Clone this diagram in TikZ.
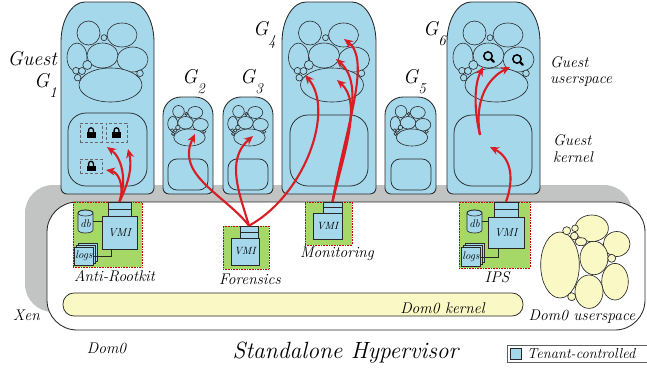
\documentclass[tikz,border=0pt]{standalone}
\usetikzlibrary{arrows.meta,shapes.geometric,shadows}
\definecolor{guestblue}{RGB}{166,216,236}
\definecolor{vmigreen}{RGB}{166,216,104}
\definecolor{domyellow}{RGB}{250,248,196}
\definecolor{bandgray}{RGB}{194,195,195}
\definecolor{arrowred}{RGB}{216,30,36}
\definecolor{edge}{RGB}{40,40,40}

% guest VM outline: left, top, right, bottom, corner x radius, corner y radius
\newcommand{\guestshape}[6]{%
  \draw[guestbox] (#1,#4-6) -- (#1,#2+#6)
    arc[start angle=180,end angle=270,x radius=#5,y radius=#6] -- (#3-#5,#2)
    arc[start angle=270,end angle=360,x radius=#5,y radius=#6] -- (#3,#4-6)
    arc[start angle=0,end angle=90,radius=6] -- (#1+6,#4)
    arc[start angle=90,end angle=180,radius=6] -- cycle;}

% database cylinder around a named text node: node, half width, half height
\newcommand{\dbcylinder}[3]{%
  \begin{scope}[shift={(#1.center)}]
    \draw[conn,fill=guestblue] (-#2,-#3+3) -- (-#2,#3-3)
      arc[start angle=180,end angle=0,x radius=#2,y radius=3] -- (#2,-#3+3)
      arc[start angle=0,end angle=-180,x radius=#2,y radius=3] -- cycle;
    \draw[conn] (0,-#3+3) ellipse[x radius=#2,y radius=3];
  \end{scope}}

% padlock glyph centred on a node
\newcommand{\padlock}[1]{%
  \begin{scope}[shift={(#1.center)}]
    \fill[black] (-4.5,-0.5) rectangle (4.5,5);
    \draw[black,line width=1.3pt] (-2.4,0) -- (-2.4,-2.3)
      arc[start angle=180,end angle=360,radius=2.4] -- (2.4,0);
  \end{scope}}

% magnifying glass glyph
\newcommand{\magnifier}[2]{%
  \begin{scope}[shift={(#1,#2)}]
    \draw[black,line width=1.5pt] (-1,-1) circle[radius=4.2];
    \draw[black,line width=2.2pt,line cap=round] (2.2,2.2) -- (4.8,4.8);
  \end{scope}}

\tikzset{
  cluster/.pic={
    \draw[bub] (-19,31) ellipse[x radius=11.5,y radius=12];
    \draw[bub] (14.5,33) ellipse[x radius=15,y radius=12];
    \draw[bub] (-3.5,35.7) circle[radius=3];
    \draw[bub] (-30.5,55.5) ellipse[x radius=10,y radius=14.5];
    \draw[bub] (-5,53.5) ellipse[x radius=15.5,y radius=12.5];
    \draw[bub] (25,57.5) ellipse[x radius=15.5,y radius=12.5];
    \draw[bub] (3,83) ellipse[x radius=31.5,y radius=17];
    \draw[bub] (-20.2,63) circle[radius=4.5];
    \draw[bub] (-31.5,68.7) circle[radius=3.3];
    \draw[bub] (-25.5,69) circle[radius=3.5];
    \draw[bub] (-29.8,75.7) circle[radius=3.3];
    \draw[bub] (32.5,71.3) circle[radius=3.3];
  }
}

\begin{document}
\begin{tikzpicture}[x=1pt,y=-1pt,
  guestbox/.style={draw=edge,fill=guestblue,line width=0.85pt},
  bub/.style={draw=edge,fill=guestblue,line width=0.6pt},
  ybub/.style={draw=edge,fill=domyellow,line width=0.65pt},
  kern/.style={draw=edge,line width=0.75pt},
  comp/.style={draw=edge,fill=guestblue,line width=0.65pt,inner sep=0pt,
    font=\fontsize{11}{11}\selectfont\itshape},
  stackbox/.style={draw=edge,fill=guestblue,line width=0.65pt,inner sep=0pt},
  tool/.style={fill=vmigreen,draw=red!80!black,densely dotted,line width=0.6pt,inner sep=0pt},
  lockbox/.style={draw=edge!70,densely dashed,line width=0.5pt,inner sep=0pt},
  conn/.style={draw=edge,line width=0.65pt},
  redarrow/.style={draw=arrowred,line width=2.1pt,-{Stealth[length=9pt,width=8pt]}},
  lbl/.style={inner sep=0pt,font=\fontsize{15.5}{16}\selectfont\itshape},
  big/.style={inner sep=0pt,font=\fontsize{20}{20}\selectfont\itshape},
]
\useasboundingbox (0,0) rectangle (647,367);

% hypervisor band and Dom0 area
\fill[bandgray,rounded corners=28] (25,185) rectangle (632,312);

% guest VMs
\guestshape{61}{2}{154}{194}{24}{40}
\guestshape{163}{97}{213}{194}{18}{18}
\guestshape{223}{97}{273}{194}{18}{18}
\guestshape{282}{2}{376}{194}{24}{40}
\guestshape{385}{97}{436}{194}{18}{18}
\guestshape{447}{2}{540}{194}{24}{40}

% guest kernels
\draw[kern,rounded corners=18] (68,113) rectangle (147,186);
\draw[kern,rounded corners=18] (290,115) rectangle (368,186);
\draw[kern,rounded corners=18] (454,115) rectangle (532,186);
\draw[kern,rounded corners=9] (168,159) rectangle (208,190);
\draw[kern,rounded corners=9] (228,159) rectangle (268,190);
\draw[kern,rounded corners=9] (391,159) rectangle (431,190);

% guest userspace processes
\pic at (107.5,2) {cluster};
\pic at (329,2) {cluster};
\pic at (493.5,2) {cluster};
\pic[scale=0.5] at (188,96) {cluster};
\pic[scale=0.5] at (248,96) {cluster};
\pic[scale=0.5] at (410.5,96) {cluster};

% protected kernel pages in G1
\node[lockbox,minimum width=22pt,minimum height=19pt] (lk1) at (91,132.5) {};
\node[lockbox,minimum width=21pt,minimum height=19pt] (lk2) at (116.5,132.5) {};
\node[lockbox,minimum width=22pt,minimum height=14pt] (lk3) at (91,166) {};
\padlock{lk1}\padlock{lk2}\padlock{lk3}

% inspected processes in G6
\magnifier{489}{57}
\magnifier{518}{60}

% Dom0
\draw[edge,fill=white,line width=0.85pt,rounded corners=30] (47,202) rectangle (645,330);
\draw[edge,fill=domyellow,line width=0.75pt,rounded corners=11] (63,293) rectangle (523,316);
\node[lbl,anchor=base] (dkern) at (442.5,313) {Dom0 kernel};

% Dom0 userspace processes
\draw[ybub] (591.7,228.3) ellipse[x radius=16.7,y radius=13.3];
\draw[ybub] (616.7,244) ellipse[x radius=13.3,y radius=12.5];
\draw[ybub] (594,258) ellipse[x radius=14,y radius=16.7];
\draw[ybub] (615,281.7) ellipse[x radius=13.3,y radius=18.3];
\draw[ybub] (589,291.7) ellipse[x radius=14,y radius=16.7];
\draw[ybub] (560,265) ellipse[x radius=19.3,y radius=33];
\draw[ybub] (566.7,230.7) circle[radius=4];
\draw[ybub] (575,228.3) circle[radius=3.3];
\draw[ybub] (574.3,236) circle[radius=3.8];
\draw[ybub] (581,241.7) ellipse[x radius=6,y radius=4];
\draw[ybub] (611.7,258.3) circle[radius=4];
\draw[ybub] (571.7,296.7) circle[radius=4];
\node[lbl,anchor=base] (duser) at (582,320) {Dom0 userspace};

% Anti-Rootkit tool
\node[tool,minimum width=69pt,minimum height=65pt] (arbox) at (107.5,234.5) {};
\node[comp,minimum width=35pt,minimum height=33pt,font=\fontsize{11.5}{11.5}\selectfont\itshape] (arvmi) at (119.5,232.5) {VMI};
\node[stackbox,minimum width=23pt,minimum height=14pt] (arst) at (119.5,209) {};
\draw[conn] (arst.west) -- (arst.east);
\node[inner sep=0pt,minimum width=15pt,minimum height=23pt] (ardb) at (85.5,221.5) {};
\dbcylinder{ardb}{7.5}{11.5}
\node[inner sep=0pt,font=\fontsize{11}{11}\selectfont\itshape] at (ardb.center) [yshift=-2pt] {db};
\node[comp,minimum width=19pt,minimum height=18pt,double copy shadow={shadow xshift=2pt,shadow yshift=2pt,draw=edge,fill=guestblue}] (arlogs) at (84,256) {logs};
\draw[conn] (ardb.east) -- (ardb.east -| arvmi.west);
\draw[conn] (arlogs.east) -| ([xshift=-8pt]arvmi.south);
\node[lbl,anchor=base] (arlbl) at (114.5,281) {Anti-Rootkit};

% Forensics tool
\node[tool,minimum width=46pt,minimum height=43pt] (fbox) at (246,247.5) {};
\node[comp,minimum width=28pt,minimum height=27pt,font=\fontsize{10.5}{10.5}\selectfont\itshape] (fvmi) at (245,251.5) {VMI};
\node[stackbox,minimum width=18pt,minimum height=12pt] (fst) at (249,232) {};
\draw[conn] (fst.west) -- (fst.east);
\node[lbl,anchor=base] (flbl) at (250,284) {Forensics};

% Monitoring tool
\node[tool,minimum width=47pt,minimum height=43pt] (mbox) at (328.5,223.5) {};
\node[comp,minimum width=29pt,minimum height=26pt,font=\fontsize{10.5}{10.5}\selectfont\itshape] (mvmi) at (327.5,226) {VMI};
\node[stackbox,minimum width=19pt,minimum height=11pt] (mst) at (332.5,207.5) {};
\draw[conn] (mst.west) -- (mst.east);
\node[lbl,anchor=base] (mlbl) at (337,257) {Monitoring};

% IPS tool
\node[tool,minimum width=71pt,minimum height=66pt] (ibox) at (494.5,235) {};
\node[comp,minimum width=36pt,minimum height=31pt,font=\fontsize{11.5}{11.5}\selectfont\itshape] (ivmi) at (506,232.5) {VMI};
\node[stackbox,minimum width=24pt,minimum height=15pt] (ist) at (506,209.5) {};
\draw[conn] (ist.west) -- (ist.east);
\node[inner sep=0pt,minimum width=15pt,minimum height=23pt] (idb) at (474.5,221.5) {};
\dbcylinder{idb}{7.5}{11.5}
\node[inner sep=0pt,font=\fontsize{11}{11}\selectfont\itshape] at (idb.center) [yshift=-2pt] {db};
\node[comp,minimum width=19pt,minimum height=19pt,double copy shadow={shadow xshift=2pt,shadow yshift=2pt,draw=edge,fill=guestblue}] (ilogs) at (471,257) {logs};
\draw[conn] (idb.east) -- (idb.east -| ivmi.west);
\draw[conn] (ilogs.east) -| ([xshift=-8pt]ivmi.south);
\node[lbl,anchor=base] (ilbl) at (497,282) {IPS};

% arrow targets inside the guests
\coordinate (lt1) at (107,147);
\coordinate (lt2) at (128,149);
\coordinate (lt3) at (106,170);
\coordinate (g2t) at (195,134);
\coordinate (g3t) at (253,136);
\coordinate (g4f) at (305,75);
\coordinate (m1) at (344,39);
\coordinate (m2) at (336,59);
\coordinate (m3) at (337,80);
\coordinate (i0) at (490,147);
\coordinate (ib) at (480,135);
\coordinate (i1) at (483,67);
\coordinate (i2) at (510,67);

% introspection arrows
\draw[redarrow] (arst.north) .. controls (127,180) and (122,158) .. (lt1);
\draw[redarrow] (arst.north) .. controls (130,180) and (132,165) .. (lt2);
\draw[redarrow] (arst.north) .. controls (125,185) and (118,172) .. (lt3);
\draw[redarrow] (fst.north) .. controls (225,195) and (175,175) .. (g2t);
\draw[redarrow] (fst.north) .. controls (240,195) and (225,160) .. (g3t);
\draw[redarrow] (fst.north) .. controls (305,195) and (335,110) .. (g4f);
\draw[redarrow] (mst.north) .. controls (345,130) and (372,60) .. (m1);
\draw[redarrow] (mst.north) .. controls (345,140) and (366,85) .. (m2);
\draw[redarrow] (mst.north) .. controls (345,150) and (362,102) .. (m3);
\draw[redarrow] (ist.north) .. controls (514,180) and (512,158) .. (i0);
\draw[redarrow] (ib) .. controls (474,110) and (474,85) .. (i1);
\draw[redarrow] (ib) .. controls (474,100) and (488,78) .. (i2);

% labels
\node[big,anchor=base east] (guestlbl) at (57,65) {Guest};
\node[big,anchor=base west] (g1) at (34,87) {G\fontsize{15}{15}\selectfont\raisebox{-10pt}{1}};
\node[big,anchor=base west] (g2) at (182,83) {G\fontsize{15}{15}\selectfont\raisebox{-10pt}{2}};
\node[big,anchor=base west] (g3) at (240,83) {G\fontsize{15}{15}\selectfont\raisebox{-10pt}{3}};
\node[big,anchor=base west] (g4) at (253,35) {G\fontsize{15}{15}\selectfont\raisebox{-10pt}{4}};
\node[big,anchor=base west] (g5) at (403,83) {G\fontsize{15}{15}\selectfont\raisebox{-10pt}{5}};
\node[big,anchor=base west] (g6) at (423,35) {G\fontsize{15}{15}\selectfont\raisebox{-10pt}{6}};
\node[lbl,anchor=base west] (gu1) at (550,67) {Guest};
\node[lbl,anchor=base west] (gu2) at (550,83) {userspace};
\node[lbl,anchor=base west] (gk1) at (553,145) {Guest};
\node[lbl,anchor=base west] (gk2) at (553,162) {kernel};
\node[lbl,anchor=base] (xen) at (26.5,320) {Xen};
\node[lbl,anchor=base] (dom0) at (106.5,353) {Dom0};
\node[inner sep=0pt,anchor=base,font=\fontsize{23.5}{24}\selectfont\itshape] (hv) at (345.5,358) {Standalone Hypervisor};

% legend
\draw[edge!75,line width=1pt] (507,345) rectangle (660,362);
\node[draw=edge,fill=guestblue,line width=0.6pt,minimum size=11pt,inner sep=0pt] (legsq) at (516,353.5) {};
\node[inner sep=0pt,anchor=base west,font=\fontsize{14.5}{15}\selectfont\itshape] (legtxt) at (527,358) {Tenant-controlled};
\end{tikzpicture}
\end{document}
